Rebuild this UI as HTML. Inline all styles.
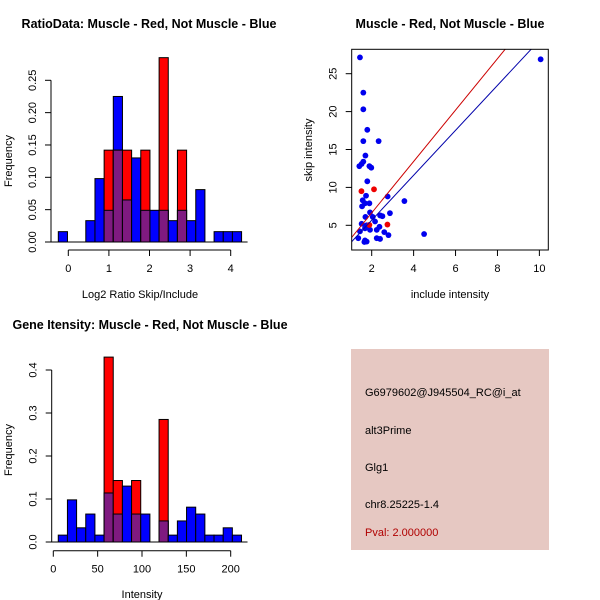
<!DOCTYPE html>
<html><head><meta charset="utf-8">
<style>
html,body{margin:0;padding:0;background:#fff;}
svg{display:block;font-family:"Liberation Sans",sans-serif;}
</style></head>
<body>
<svg id="root" width="600" height="600" viewBox="0 0 600 600" xmlns="http://www.w3.org/2000/svg">
<rect x="0" y="0" width="600" height="600" fill="#fff"/>
<text x="149" y="28" text-anchor="middle" font-size="12.5" font-weight="bold">RatioData: Muscle - Red, Not Muscle - Blue</text>
<text x="450" y="28" text-anchor="middle" font-size="12.5" font-weight="bold">Muscle - Red, Not Muscle - Blue</text>
<text x="150" y="329" text-anchor="middle" font-size="12.5" font-weight="bold">Gene Itensity: Muscle - Red, Not Muscle - Blue</text>
<text x="140" y="298" text-anchor="middle" font-size="11">Log2 Ratio Skip/Include</text>
<text x="12" y="161" text-anchor="middle" font-size="11" transform="rotate(-90 12 161)">Frequency</text>
<text x="450" y="298" text-anchor="middle" font-size="11">include intensity</text>
<text x="312" y="150" text-anchor="middle" font-size="11" transform="rotate(-90 312 150)">skip intensity</text>
<text x="142" y="598" text-anchor="middle" font-size="11">Intensity</text>
<text x="12" y="450" text-anchor="middle" font-size="11" transform="rotate(-90 12 450)">Frequency</text>
<g>
<rect x="351" y="349" width="198" height="201" fill="#e6c8c2"/>
<text x="365" y="396" font-size="11">G6979602@J945504_RC@i_at</text>
<text x="365" y="434" font-size="11">alt3Prime</text>
<text x="365" y="471" font-size="11">Glg1</text>
<text x="365" y="508" font-size="11">chr8.25225-1.4</text>
<text x="365" y="536" font-size="11" fill="#b00000">Pval: 2.000000</text>
</g>
</svg>
<script>
// ---- Chart 1 data: log2 ratio histogram ----
const ratioBinStart = -0.246;
const ratioBinWidth = 0.2257;
const ratioBlue = [0.016,0,0,0.033,0.098,0.049,0.225,0.065,0.13,0.049,0.049,0.049,0.033,0.049,0.033,0.081,0,0.016,0.016,0.016];
const ratioRed  = [0,0,0,0,0,0.142,0.142,0.142,0,0.142,0,0.285,0,0.142,0,0,0,0,0,0];
const ratioXTicks = [0,1,2,3,4];
const ratioYTicks = ["0.00","0.05","0.10","0.15","0.20","0.25"];
// ---- Chart 2 data: scatter ----
const blueInclude = [1.44,1.60,1.60,1.79,1.60,2.33,1.70,1.60,1.52,1.41,1.89,1.98,1.79,2.76,3.56,1.73,1.57,1.68,1.89,1.54,1.92,2.87,1.70,2.05,2.40,2.51,2.16,1.52,1.76,2.37,1.68,1.92,2.24,1.44,2.60,2.80,4.50,1.36,2.24,2.40,1.68,1.76,1.65,10.06];
const blueSkip    = [27.15,22.5,20.3,17.6,16.1,16.1,14.2,13.4,13.1,12.8,12.8,12.6,10.8,8.8,8.2,8.9,8.3,7.9,7.9,7.5,6.7,6.6,6.1,6.1,6.3,6.2,5.5,5.2,5.0,4.8,4.6,4.4,4.4,4.2,4.1,3.7,3.85,3.3,3.3,3.2,3.0,2.85,2.8,26.9];
const redInclude = [1.51,2.11,1.89,2.75];
const redSkip    = [9.5,9.75,5.05,5.1];
const redLine  = [-0.14, 3.39];  // intercept, slope
const blueLine = [-0.26, 2.965];
const scatterXTicks = [2,4,6,8,10];
const scatterYTicks = [5,10,15,20,25];
// ---- Chart 3 data: intensity histogram ----
const intBinStart = 5.6;
const intBinWidth = 10.33;
const intBlue = [0.016,0.098,0.033,0.065,0.016,0.114,0.065,0.13,0.065,0.065,0,0.049,0.016,0.049,0.081,0.065,0.016,0.016,0.033,0.016];
const intRed  = [0,0,0,0,0,0.43,0.143,0,0.143,0,0,0.285,0,0,0,0,0,0,0,0];
const intXTicks = [0,50,100,150,200];
const intYTicks = ["0.0","0.1","0.2","0.3","0.4"];

const NS = "http://www.w3.org/2000/svg";
const root = document.getElementById('root');
function mk(tag, attrs, parent){
  const e = document.createElementNS(NS, tag);
  for (const k in attrs) e.setAttribute(k, attrs[k]);
  (parent||root).appendChild(e);
  return e;
}

function histogram(cfg){
  const g = mk('g', {});
  
  
  const sx = v => cfg.x0px + (v - cfg.x0val) * cfg.xScale;
  const sy = v => cfg.y0px - v * cfg.yScale;
  for (let i = 0; i < cfg.blue.length; i++){
    const a = cfg.binStart + i*cfg.binWidth, b = a + cfg.binWidth;
    const x1 = sx(a), x2 = sx(b);
    const bv = cfg.blue[i], rv = cfg.red[i];
    if (bv > 0){
      const r = mk('rect', {x:x1, y:sy(bv), width:x2-x1, height:sy(0)-sy(bv), fill:'#0000ff', stroke:'#000', 'stroke-width':1}, g);
      
      
    }
    if (rv > 0){
      const r = mk('rect', {x:x1, y:sy(rv), width:x2-x1, height:sy(0)-sy(rv), fill:'#ff0000', stroke:'#000', 'stroke-width':1}, g);
      
      
      const m = Math.min(rv, bv);
      if (m > 0){
        const p = mk('rect', {x:x1, y:sy(m), width:x2-x1, height:sy(0)-sy(m), fill:'#7f1a80', stroke:'#000', 'stroke-width':1}, g);
        
        
      }
    }
  }
  mk('line', {x1:sx(cfg.binStart)-8, x2:sx(cfg.binStart+cfg.blue.length*cfg.binWidth)+6, y1:sy(0), y2:sy(0), stroke:'#000'}, g);
  const yv = cfg.yTicks.map(Number);
  const ya = mk('g', {}, g);
  
  
  mk('line', {x1:cfg.yAxisX, x2:cfg.yAxisX, y1:sy(yv[0]), y2:sy(yv[yv.length-1]), stroke:'#000'}, ya);
  cfg.yTicks.forEach(t => {
    const y = sy(Number(t));
    mk('line', {x1:cfg.yAxisX-6, x2:cfg.yAxisX, y1:y, y2:y, stroke:'#000'}, ya);
    const lx = cfg.yAxisX-15;
    const tx = mk('text', {x:lx, y:y, 'font-size':11, 'text-anchor':'middle', transform:`rotate(-90 ${lx} ${y})`}, ya);
    tx.textContent = t;
    
    
  });
  const xa = mk('g', {}, g);
  
  
  const xt = cfg.xTicks;
  mk('line', {x1:sx(xt[0]), x2:sx(xt[xt.length-1]), y1:cfg.xAxisY, y2:cfg.xAxisY, stroke:'#000'}, xa);
  xt.forEach(t => {
    const x = sx(t);
    mk('line', {x1:x, x2:x, y1:cfg.xAxisY, y2:cfg.xAxisY+6, stroke:'#000'}, xa);
    const tx = mk('text', {x:x, y:cfg.xAxisY+22, 'font-size':11, 'text-anchor':'middle'}, xa);
    tx.textContent = t;
    
    
  });
}

histogram({name:'ratio-histogram', blue:ratioBlue, red:ratioRed, binStart:ratioBinStart, binWidth:ratioBinWidth,
  x0px:68.3, x0val:0, xScale:40.6, y0px:242, yScale:646.8, yAxisX:51, xAxisY:250,
  xTicks:ratioXTicks, yTicks:ratioYTicks});
histogram({name:'intensity-histogram', blue:intBlue, red:intRed, binStart:intBinStart, binWidth:intBinWidth,
  x0px:53.3, x0val:0, xScale:0.887, y0px:542, yScale:430, yAxisX:51.7, xAxisY:550.7,
  xTicks:intXTicks, yTicks:intYTicks});

(function(){
  const L=351.7, R=548.3, T=49.3, B=250;
  const sx = v => 371.7 + (v-2)*20.96;
  const sy = v => 225.3 - (v-5)*7.58;
  const g = mk('g', {});
  
  
  const clip = mk('clipPath', {id:'sc'}, g);
  mk('rect', {x:L, y:T, width:R-L, height:B-T}, clip);
  for (let i=0;i<blueInclude.length;i++){
    const c = mk('circle', {cx:sx(blueInclude[i]), cy:sy(blueSkip[i]), r:2.9, fill:'#0000ee'}, g);
    
    
  }
  for (let i=0;i<redInclude.length;i++){
    const c = mk('circle', {cx:sx(redInclude[i]), cy:sy(redSkip[i]), r:2.9, fill:'#ee0000'}, g);
    
    
  }
  const xa0 = 0.5, xa1 = 11;
  const rl = mk('line', {x1:sx(xa0), y1:sy(redLine[0]+redLine[1]*xa0), x2:sx(xa1), y2:sy(redLine[0]+redLine[1]*xa1), stroke:'#cc0000', 'stroke-width':1, 'clip-path':'url(#sc)'}, g);
  
  
  const bl = mk('line', {x1:sx(xa0), y1:sy(blueLine[0]+blueLine[1]*xa0), x2:sx(xa1), y2:sy(blueLine[0]+blueLine[1]*xa1), stroke:'#0000aa', 'stroke-width':1, 'clip-path':'url(#sc)'}, g);
  
  
  const box = mk('rect', {x:L, y:T, width:R-L, height:B-T, fill:'none', stroke:'#000'}, g);
  
  
  scatterXTicks.forEach(t => {
    const x = sx(t);
    mk('line', {x1:x, x2:x, y1:B, y2:B+6, stroke:'#000'}, g);
    const tx = mk('text', {x:x, y:B+22, 'font-size':11, 'text-anchor':'middle'}, g);
    tx.textContent = t;
    
    
  });
  scatterYTicks.forEach(t => {
    const y = sy(t);
    mk('line', {x1:L-6, x2:L, y1:y, y2:y, stroke:'#000'}, g);
    const lx = L-15;
    const tx = mk('text', {x:lx, y:y, 'font-size':11, 'text-anchor':'middle', transform:`rotate(-90 ${lx} ${y})`}, g);
    tx.textContent = t;
    
    
  });
})();
</script>
</body></html>
